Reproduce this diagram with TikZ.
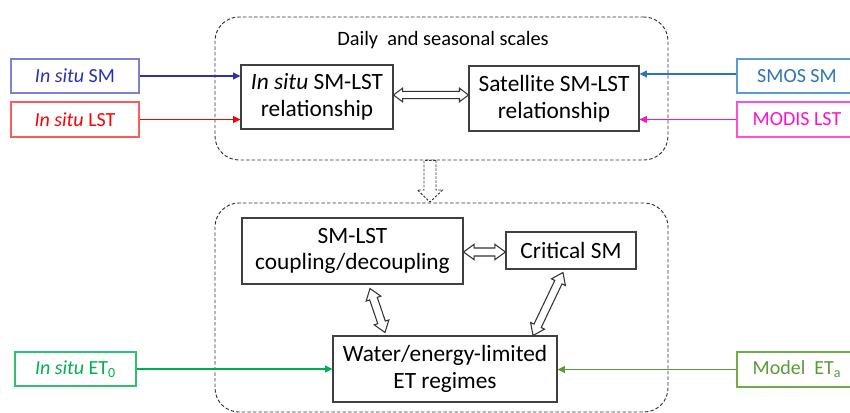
\documentclass[tikz,border=0pt]{standalone}
\usepackage{fontspec}
\setmainfont{Carlito}
\usetikzlibrary{calc,arrows.meta}
\definecolor{smblue}{HTML}{2B30B4}
\definecolor{smbluebd}{HTML}{7C80DA}
\definecolor{lstred}{HTML}{FF0000}
\definecolor{lstredbd}{HTML}{FF5A5A}
\definecolor{smosblue}{HTML}{2E75B6}
\definecolor{smosbluebd}{HTML}{5B9BD5}
\definecolor{modis}{HTML}{FF10CC}
\definecolor{modisbd}{HTML}{FF50DD}
\definecolor{etgreen}{HTML}{00B050}
\definecolor{etgreenbd}{HTML}{30C070}
\definecolor{modgreen}{HTML}{5A9A38}
\definecolor{modgreenbd}{HTML}{70AD47}
% hollow double arrow: #1 options, #2 from, #3 to, #4 shaft half width, #5 head half width, #6 head length
\newcommand\hollowdbl[6]{%
  \coordinate (hdA) at ($(#2)!#6!(#3)$);
  \coordinate (hdB) at ($(#3)!#6!(#2)$);
  \draw[#1] (#2) -- ($(hdA)!#5!90:(#3)$) -- ($(hdA)!#4!90:(#3)$)
    -- ($(hdB)!#4!-90:(#2)$) -- ($(hdB)!#5!-90:(#2)$) -- (#3)
    -- ($(hdB)!#5!90:(#2)$) -- ($(hdB)!#4!90:(#2)$)
    -- ($(hdA)!#4!-90:(#3)$) -- ($(hdA)!#5!-90:(#3)$) -- cycle;
}
% hollow single arrow: tail #2, tip #3
\newcommand\hollowsgl[6]{%
  \coordinate (hsB) at ($(#3)!#6!(#2)$);
  \draw[#1] ($(#2)!#4!90:(#3)$) -- ($(hsB)!#4!-90:(#2)$) -- ($(hsB)!#5!-90:(#2)$)
    -- (#3) -- ($(hsB)!#5!90:(#2)$) -- ($(hsB)!#4!90:(#2)$)
    -- ($(#2)!#4!-90:(#3)$) -- cycle;
}
\begin{document}
\begin{tikzpicture}[x=0.75pt,y=-0.75pt,
  box/.style={draw=black!75, line width=0.8pt, align=center, inner sep=0pt,
    font=\fontsize{17.5}{20}\selectfont},
  inbox/.style={draw=#1, line width=0.8pt, inner sep=0pt, align=center,
    minimum height=25.5pt, font=\fontsize{15}{19}\selectfont},
  container/.style={draw=black!80, line width=0.7pt, dash pattern=on 2.6pt off 1.6pt,
    rounded corners=18pt},
  feed/.style={line width=1.3pt, draw=#1, -{Triangle[length=5.5pt,width=5pt]}},
  hollow/.style={draw=black!80, fill=white, line width=0.8pt, line join=miter},
  hollowdash/.style={hollow, line width=0.7pt, dash pattern=on 1.8pt off 1.2pt}
]
\useasboundingbox (0,0) rectangle (850,413);
\clip (0,0) rectangle (850,413);

% containers
\node[container, minimum width=339.75pt, minimum height=107.25pt] (top) at (441.5,88.5) {};
\node[container, minimum width=339.75pt, minimum height=156.75pt] (bot) at (441.5,307.5) {};
\node[font=\fontsize{15.3}{17}\selectfont] (title) at (443,40) {Daily~ and seasonal scales};

% top boxes
\node[box, minimum width=114pt, minimum height=48pt] (insitu) at (317,97)
  {\textit{In situ} SM-LST\\relationship};
\node[box, minimum width=127.5pt, minimum height=48.75pt] (sat) at (554,98.5)
  {Satellite SM-LST\\relationship};

% bottom boxes
\node[box, minimum width=165.75pt, minimum height=49.5pt] (coup) at (352.5,251)
  {SM-LST\\coupling/decoupling};
\node[box, minimum width=97.5pt, minimum height=27.75pt] (crit) at (571,250.5)
  {Critical SM};
\node[box, minimum width=168pt, minimum height=49.5pt] (water) at (445,369)
  {Water/energy-limited\\ET regimes};

% input boxes
\node[inbox=smbluebd, text=smblue, minimum width=96pt] (ism) at (75,76) {\textit{In situ} SM};
\node[inbox=lstredbd, text=lstred, minimum width=96pt, minimum height=26.25pt] (ilst) at (75,119.5) {\textit{In situ} LST};
\node[inbox=smosbluebd, text=smosblue, minimum width=90pt] (smos) at (797,76) {SMOS SM};
\node[inbox=modisbd, text=modis, minimum width=90pt, minimum height=26.25pt] (modis) at (797,119.5) {MODIS LST};
\node[inbox=etgreenbd, text=etgreen, minimum width=90.75pt] (et0) at (75.5,369) {\textit{In situ} ET\textsubscript{0}};
\node[inbox=modgreenbd, text=modgreen, minimum width=90pt, minimum height=26.25pt] (eta) at (797,369.5) {Model~ ET\textsubscript{a}};

% feed arrows
\draw[feed=smblue] (ism.east) -- (ism.east -| insitu.west);
\draw[feed=lstred] (ilst.east) -- (ilst.east -| insitu.west);
\draw[feed=smosblue] ($(smos.west)+(0,-2)$) -- ($(smos.west -| sat.east)+(0,-2)$);
\draw[feed=modis] (modis.west) -- (modis.west -| sat.east);
\draw[feed=etgreen] (et0.east) -- (et0.east -| water.west);
\draw[feed=modgreen] (eta.west) -- (eta.west -| water.east);

% hollow double arrows
\coordinate (r1) at ($(insitu.east)+(0,-2)$);
\coordinate (r2) at ($(sat.west)+(0,-3.5)$);
\hollowdbl{hollow}{r1}{r2}{2.7pt}{5.1pt}{6.75pt}
\coordinate (k1) at ($(coup.east)+(0,1)$);
\coordinate (k2) at ($(crit.west)+(0,1.5)$);
\hollowdbl{hollow}{k1}{k2}{3pt}{5.8pt}{8pt}
\coordinate (c1) at ($(coup.south)+(17.5,4)$);
\coordinate (w1) at ($(water.north)+(-60,-3)$);
\hollowdbl{hollow}{c1}{w1}{3pt}{5.8pt}{8pt}
\coordinate (c2) at ($(crit.south)+(-8,3)$);
\coordinate (w2) at ($(water.north)+(88,0)$);
\hollowdbl{hollow}{c2}{w2}{3pt}{5.8pt}{8pt}

% dashed down arrow between containers
\coordinate (d1) at ($(top.south)+(-11.5,0)$);
\coordinate (d2) at ($(bot.north)+(-11.5,-0.5)$);
\hollowsgl{hollowdash}{d1}{d2}{4.5pt}{9.4pt}{9pt}
\end{tikzpicture}
\end{document}
